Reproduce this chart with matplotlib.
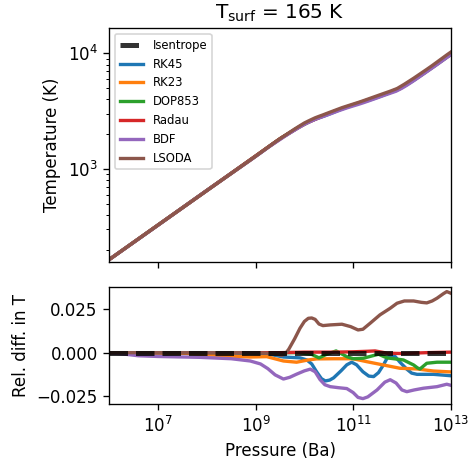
import numpy as np
import matplotlib
matplotlib.use("Agg")
import matplotlib.pyplot as plt
from matplotlib.lines import Line2D

# isentrope, log10(P [Ba]) vs log10(T [K])
iso_logp = [6.0, 7.0, 8.0, 9.0, 9.25, 9.5, 9.75, 10.0, 10.25, 10.5, 10.75, 11.0, 11.5,
            11.75, 11.9, 12.05, 12.2, 12.6, 13.0]
iso_logt = [2.2175, 2.515, 2.815, 3.11, 3.188, 3.262, 3.33, 3.39, 3.44, 3.48, 3.52, 3.555,
            3.625, 3.66, 3.683, 3.72, 3.76, 3.875, 3.995]

# relative difference in T for every solver
rk45_logp = [6.0, 8.0, 9.0, 9.3, 9.57, 9.91, 10.05, 10.15, 10.25, 10.35, 10.43, 10.52,
             10.6, 10.75, 10.87, 10.97, 11.07, 11.2, 11.32, 11.42, 11.52, 11.62, 11.7,
             11.78, 11.86, 11.96, 12.1, 12.2, 12.31, 12.65, 13.0]
rk45_diff = [0.0, 0.0, -0.0005, -0.001, -0.0025, -0.003, -0.0042, -0.0065, -0.011, -0.015,
             -0.0163, -0.0158, -0.0145, -0.0105, -0.007, -0.0055, -0.007, -0.011, -0.0135,
             -0.0138, -0.0115, -0.0071, -0.003, -0.0015, -0.0022, -0.0055, -0.0095,
             -0.0118, -0.0125, -0.0125, -0.0133]

rk23_logp = [6.0, 7.5, 8.06, 8.5, 8.88, 9.23, 9.57, 9.84, 10.08, 10.25, 10.6, 11.0, 11.28,
             11.62, 11.96, 12.31, 12.65, 13.0]
rk23_diff = [0.0, -0.0003, -0.0013, -0.002, -0.0025, -0.0023, -0.0048, -0.0055, -0.0042,
             -0.0036, -0.0035, -0.0035, -0.0052, -0.0071, -0.009, -0.0094, -0.0106, -0.0111]

dop_logp = [6.0, 9.5, 9.9, 10.15, 10.3, 10.45, 10.65, 10.87, 11.0, 11.21, 11.52, 11.69,
            12.03, 12.24, 12.32, 12.37, 12.43, 12.51, 12.72, 13.0]
dop_diff = [0.0, 0.0, 0.0, -0.001, -0.003, -0.001, 0.001, -0.0023, -0.0035, -0.0032,
            -0.0009, -0.003, -0.0042, -0.0071, -0.0088, -0.0094, -0.008, -0.0061, -0.0055,
            -0.0055]

radau_logp = [6.0, 9.5, 10.0, 10.6, 11.0, 11.3, 11.45, 11.7, 12.0, 12.5, 13.0]
radau_diff = [0.0, 0.0, 0.0003, 0.0003, 0.0005, 0.0008, 0.001, -0.0003, -0.0005, 0.0, 0.0003]

bdf_logp = [6.0, 6.3, 6.6, 7.0, 7.86, 8.5, 8.89, 9.1, 9.25, 9.4, 9.57, 9.7, 9.84, 10.0,
            10.12, 10.22, 10.32, 10.42, 10.53, 10.7, 10.87, 11.0, 11.1, 11.2, 11.3, 11.49,
            11.65, 11.76, 11.88, 12.0, 12.1, 12.25, 12.44, 12.72, 12.92, 13.0]
bdf_diff = [0.0, -0.0008, -0.0018, -0.0022, -0.0027, -0.0035, -0.0048, -0.0065, -0.0092,
            -0.0128, -0.0152, -0.0142, -0.0124, -0.0105, -0.0095, -0.011, -0.0155, -0.0185,
            -0.0196, -0.0202, -0.0207, -0.023, -0.0258, -0.0265, -0.0255, -0.0215, -0.017,
            -0.0156, -0.0175, -0.0215, -0.0225, -0.0215, -0.0205, -0.0196, -0.0182, -0.0188]

lsoda_logp = [6.0, 9.0, 9.4, 9.53, 9.6, 9.68, 9.8, 9.91, 10.0, 10.08, 10.15, 10.22, 10.3,
              10.38, 10.53, 10.77, 10.95, 11.1, 11.2, 11.35, 11.55, 11.76, 11.9, 12.05,
              12.24, 12.4, 12.51, 12.62, 12.72, 12.85, 12.92, 13.0]
lsoda_diff = [0.0, 0.0, -0.0005, -0.0015, -0.001, 0.002, 0.008, 0.0141, 0.018, 0.0198,
              0.02, 0.0192, 0.0165, 0.0156, 0.016, 0.0164, 0.015, 0.0131, 0.0135, 0.017,
              0.0218, 0.0256, 0.0285, 0.0298, 0.0298, 0.029, 0.0287, 0.0298, 0.0314,
              0.034, 0.0352, 0.0343]

methods = ["RK45", "RK23", "DOP853", "Radau", "BDF", "LSODA"]
colors = ["tab:blue", "tab:orange", "tab:green", "tab:red", "tab:purple", "tab:brown"]
logps = [rk45_logp, rk23_logp, dop_logp, radau_logp, bdf_logp, lsoda_logp]
diffs = [rk45_diff, rk23_diff, dop_diff, radau_diff, bdf_diff, lsoda_diff]

fig = plt.figure(figsize=(3.9, 464 / 120), dpi=120)
ax1 = fig.add_axes([0.2336, 0.4347, 0.7294, 0.5043])
ax2 = fig.add_axes([0.2336, 0.1293, 0.7294, 0.2527], sharex=ax1)

# top panel: temperature profiles
p_iso = 10 ** np.array(iso_logp)
ax1.plot(p_iso, 10 ** np.array(iso_logt), "--", color="k", lw=1.5, alpha=0.8, zorder=1)
for name, c, lp, d in zip(methods, colors, logps, diffs):
    lp = np.array(lp)
    t = 10 ** np.interp(lp, iso_logp, iso_logt) * (1 + np.array(d))
    ax1.plot(10 ** lp, t, color=c, lw=2, label=name)

ax1.set_xscale("log")
ax1.set_yscale("log")
ax1.set_xlim(1e6, 1e13)
ax1.set_ylim(156, 16450)
ax1.set_ylabel("Temperature (K)")
ax1.set_title(r"T$_{\rm surf}$ = 165 K")
handles, labels = ax1.get_legend_handles_labels()
iso_handle = Line2D([], [], ls="--", color="k", lw=3, alpha=0.8)
ax1.legend([iso_handle] + handles, ["Isentrope"] + labels, loc="upper left", fontsize=7)
ax1.tick_params(labelbottom=False)

# bottom panel: relative differences
for name, c, lp, d in zip(methods, colors, logps, diffs):
    ax2.plot(10 ** np.array(lp), d, color=c, lw=2)
ax2.plot(p_iso, np.zeros(len(p_iso)), "--", color="k", lw=3, alpha=0.8, zorder=5)

ax2.set_ylim(-0.0296, 0.038)
ax2.set_yticks([-0.025, 0.0, 0.025])
ax2.set_xlabel("Pressure (Ba)")
ax2.set_ylabel("Rel. diff. in T")

fig.savefig("out.png", dpi=120)
